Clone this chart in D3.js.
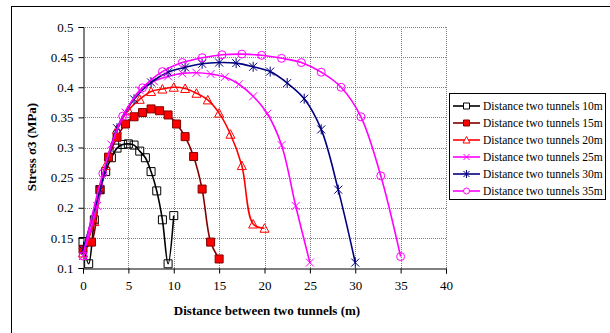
<!DOCTYPE html>
<html><head><meta charset="utf-8">
<script src="https://cdn.jsdelivr.net/npm/d3@7"></script>
<style>
body{margin:0;background:#fff}
svg{display:block}
svg text{font-family:"Liberation Serif","Times New Roman",Times,"DejaVu Serif",serif !important;fill:#000}
</style>
</head><body>
<svg id="c" width="610" height="333"></svg>
<script>
// ---- data ----
const seriesNames = ["Distance two tunnels 10m","Distance two tunnels 15m","Distance two tunnels 20m","Distance two tunnels 25m","Distance two tunnels 30m","Distance two tunnels 35m"];
const x10 = [0,0.625,1.25,1.875,2.5,3.125,3.75,4.375,5,5.625,6.25,6.875,7.5,8.125,8.75,9.375,10];
const y10 = [0.144,0.107,0.18,0.23,0.26,0.283,0.299,0.305,0.306,0.304,0.294,0.283,0.26,0.228,0.18,0.107,0.187];
const x15 = [0,0.9375,1.875,2.8125,3.75,4.6875,5.625,6.5625,7.5,8.4375,9.375,10.3125,11.25,12.1875,13.125,14.0625,15];
const y15 = [0.131,0.143,0.23,0.284,0.317,0.339,0.351,0.358,0.364,0.361,0.354,0.339,0.318,0.285,0.231,0.143,0.115];
const x20 = [0,1.25,2.5,3.75,5,6.25,7.5,8.75,10,11.25,12.5,13.75,15,16.25,17.5,18.75,20];
const y20 = [0.125,0.177,0.27,0.33,0.362,0.38,0.393,0.397,0.4,0.398,0.39,0.379,0.357,0.322,0.27,0.173,0.166];
const x25 = [0,1.5625,3.125,4.6875,6.25,7.8125,9.375,10.9375,12.5,14.0625,15.625,17.1875,18.75,20.3125,21.875,23.4375,25];
const y25 = [0.12,0.203,0.305,0.358,0.395,0.41,0.418,0.423,0.424,0.422,0.417,0.405,0.385,0.356,0.304,0.203,0.109];
const x30 = [0,1.875,3.75,5.625,7.5,9.375,11.25,13.125,15,16.875,18.75,20.625,22.5,24.375,26.25,28.125,30];
const y30 = [0.13,0.23,0.332,0.38,0.408,0.425,0.433,0.439,0.441,0.44,0.434,0.426,0.407,0.381,0.33,0.23,0.109];
const x35 = [0,2.1875,4.375,6.5625,8.75,10.9375,13.125,15.3125,17.5,19.6875,21.875,24.0625,26.25,28.4375,30.625,32.8125,35];
const y35 = [0.12,0.257,0.352,0.399,0.426,0.441,0.449,0.454,0.455,0.453,0.448,0.441,0.425,0.4,0.351,0.253,0.119];
const xTicks = [0,5,10,15,20,25,30,35,40];
const yTicks = [0.1,0.15,0.2,0.25,0.3,0.35,0.4,0.45,0.5];
const yTickLabels = ["0.1","0.15","0.2","0.25","0.3","0.35","0.4","0.45","0.5"];

// ---- styles ----
const FONT = "'Liberation Serif','Times New Roman',Times,'DejaVu Serif',serif";
const styles = [
  {line:"#000000", marker:"square", fill:"none", stroke:"#000000"},
  {line:"#800000", marker:"square", fill:"#FF0000", stroke:"#800000"},
  {line:"#FF0000", marker:"triangle", fill:"none", stroke:"#FF0000"},
  {line:"#FF00FF", marker:"x", fill:"none", stroke:"#FF00FF"},
  {line:"#000080", marker:"star", fill:"none", stroke:"#000080"},
  {line:"#FF00FF", marker:"circle", fill:"none", stroke:"#FF00FF"}
];
const xs = [x10,x15,x20,x25,x30,x35], ys = [y10,y15,y20,y25,y30,y35];
const series = seriesNames.map((n,i)=>({name:n, pts:xs[i].map((x,j)=>({x, y:ys[i][j]})), st:styles[i]}));

const svg = d3.select("#c").attr("font-family",FONT);
const L=83, R=446, T=27, B=268;
const x = d3.scaleLinear().domain([0,40]).range([L,R]);
const y = d3.scaleLinear().domain([0.1,0.5]).range([B,T]);

// outer chart border
svg.append("rect").attr("x",11.5).attr("y",6.5).attr("width",640).attr("height",400)
  .attr("fill","none").attr("stroke","#000").attr("stroke-width",1);

// grid
const grid = svg.append("g");
grid.selectAll("line.v").data(xTicks.slice(1)).join("line")
  .attr("x1",d=>Math.round(x(d))+0.5).attr("x2",d=>Math.round(x(d))+0.5).attr("y1",T).attr("y2",B)
  .attr("stroke","#808080").attr("stroke-dasharray","1,1");
grid.selectAll("line.h").data(yTicks.slice(1)).join("line")
  .attr("y1",d=>Math.round(y(d))+0.5).attr("y2",d=>Math.round(y(d))+0.5).attr("x1",L).attr("x2",R)
  .attr("stroke","#808080").attr("stroke-dasharray","1,1");

// axes
const xAxis = d3.axisBottom(x).tickValues(xTicks).tickSize(5).tickFormat(d3.format("d"));
const gx = svg.append("g").attr("transform",`translate(0,${B+0.5})`).call(xAxis).attr("font-family",FONT).attr("font-size",13);
gx.select(".domain").attr("stroke","#000");
gx.selectAll(".tick line").attr("stroke","#000");
gx.selectAll(".tick text").attr("dy","1.0em");
const yAxis = d3.axisLeft(y).tickValues(yTicks).tickSize(5).tickFormat((d,i)=>yTickLabels[i]);
const gy = svg.append("g").attr("transform",`translate(${L+0.5},0)`).call(yAxis).attr("font-family",FONT).attr("font-size",13);
gy.select(".domain").attr("stroke","#000");
gy.selectAll(".tick line").attr("stroke","#000");
gy.selectAll(".tick text").attr("x",-10);

// titles
svg.append("text").attr("x",267).attr("y",315).attr("text-anchor","middle")
  .attr("font-size",13).attr("font-weight","bold").text("Distance between two tunnels (m)");
svg.append("text").attr("transform","translate(36,147) rotate(-90)").attr("text-anchor","middle")
  .attr("font-size",13).attr("font-weight","bold").text("Stress σ3 (MPa)");

// clip (lines only)
svg.append("clipPath").attr("id","pc").append("rect").attr("x",L).attr("y",T).attr("width",R-L).attr("height",B-T);

function markerPath(type, s){
  const h=s/2;
  if(type==="square") return `M${-h},${-h}H${h}V${h}H${-h}Z`;
  if(type==="triangle") return `M0,${-h-0.5}L${h+0.5},${h}L${-h-0.5},${h}Z`;
  if(type==="circle") return d3.arc()({innerRadius:0,outerRadius:h,startAngle:0,endAngle:2*Math.PI});
  if(type==="x") return `M${-h},${-h}L${h},${h}M${-h},${h}L${h},${-h}`;
  if(type==="star") return `M${-h},${-h}L${h},${h}M${-h},${h}L${h},${-h}M0,${-h-1}L0,${h+1}`;
}

const line = d3.line().x(d=>x(d.x)).y(d=>y(d.y)).curve(d3.curveCatmullRom.alpha(0.5));
series.forEach(s=>{
  const g = svg.append("g");
  g.append("path").attr("clip-path","url(#pc)").attr("d",line(s.pts)).attr("fill","none").attr("stroke",s.st.line).attr("stroke-width",1.6);
  g.selectAll("path.m").data(s.pts).join("path").attr("class","m")
    .attr("transform",d=>`translate(${x(d.x)},${y(d.y)})`)
    .attr("d",markerPath(s.st.marker,8))
    .attr("fill",s.st.fill).attr("stroke",s.st.stroke).attr("stroke-width",1);
});

// legend
const lg = svg.append("g");
lg.append("rect").attr("x",449.5).attr("y",93.5).attr("width",156).attr("height",106)
  .attr("fill","#fff").attr("stroke","#000");
series.forEach((s,i)=>{
  const yy = 106 + i*17;
  lg.append("line").attr("x1",453).attr("x2",480).attr("y1",yy).attr("y2",yy).attr("stroke",s.st.line).attr("stroke-width",1.6);
  lg.append("path").attr("transform",`translate(466.5,${yy})`).attr("d",markerPath(s.st.marker,6))
    .attr("fill",s.st.fill==="none"?"#fff":s.st.fill).attr("stroke",s.st.stroke);
  lg.append("text").attr("x",483).attr("y",yy+4).attr("font-size",11.5).text(s.name);
});
</script>
</body></html>
